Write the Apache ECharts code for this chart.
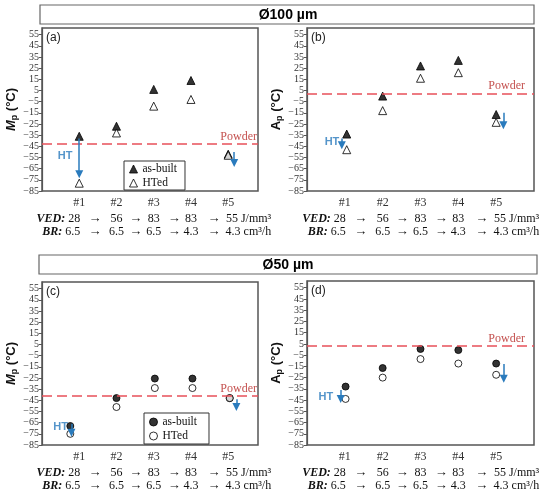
<!DOCTYPE html>
<html lang="en">
<head>
  <meta charset="UTF-8">
  <title>Mp / Ap as-built vs HTed</title>
  <style>
    html, body { margin: 0; padding: 0; background: #fff; }
    #chart { width: 550px; height: 499px; }
  </style>
</head>
<body>
  <div id="chart"></div>
  <script src="https://cdn.jsdelivr.net/npm/echarts@6/dist/echarts.min.js"></script>
  <script>
    // ---- data ----
    const cases = ['#1', '#2', '#3', '#4', '#5'];
    const yTicks = [-85, -75, -65, -55, -45, -35, -25, -15, -5, 5, 15, 25, 35, 45, 55];
    const vedRow = ['28', '56', '83', '83', '55 J/mm³'];
    const brRow = ['6.5', '6.5', '6.5', '4.3', '4.3 cm³/h'];

    // (a) Mp, Ø100 µm
    const xA = [1, 2, 3, 4, 5];
    const mpBuilt100 = [-36, -27, 6, 14, -52];
    const mpHTed100 = [-78, -33, -9, -3, -53];
    const powderA = -42.5;
    const arrowsA = [[1, -38, -70], [5.16, -50, -60]];   // [x, from, to]
    const htA = [0.62, -54];

    // (b) Ap, Ø100 µm
    const xB = [1.05, 2, 3, 4, 5];
    const apBuilt100 = [-34, 0, 27, 32, -16.5];
    const apHTed100 = [-48, -13, 16, 21, -23.5];
    const powderB = 2.5;
    const arrowsB = [[0.92, -38, -44], [5.19, -15, -26]];
    const htB = [0.66, -41];

    // (c) Mp, Ø50 µm
    const xC = [0.76, 2, 3.03, 4.04, 5.04];
    const mpBuilt50 = [-68, -43, -25.5, -25.5, -43];
    const mpHTed50 = [-75, -51, -34, -34, -43];
    const powderC = -41;
    const arrowsC = [[0.79, -66, -74], [5.22, -44, -51]];
    const htC = [0.5, -69];

    // (d) Ap, Ø50 µm
    const xD = [1.02, 2, 3, 4, 5];
    const apBuilt50 = [-33, -16.5, 0.5, -0.5, -12.5];
    const apHTed50 = [-44, -25, -8.5, -12.5, -22.5];
    const powderD = 3.5;
    const arrowsD = [[0.89, -36, -44], [5.2, -13, -26]];
    const htD = [0.5, -42];

    const SERIF = '"Liberation Serif", "Times New Roman", serif';
    const SANS = '"Liberation Sans", Arial, sans-serif';
    const BLUE = '#2a7bbd';

    const panels = [
      { x: xA, built: mpBuilt100, hted: mpHTed100, powder: powderA, arrows: arrowsA, ht: htA,
        sym: 'triangle', size: 8, ylab: 'M', italic: true, xMax: 5.8,
        grid: { left: 42, top: 28, width: 216, height: 163 }, gap: 22 },
      { x: xB, built: apBuilt100, hted: apHTed100, powder: powderB, arrows: arrowsB, ht: htB,
        sym: 'triangle', size: 8, ylab: 'A', italic: false, xMax: 6,
        grid: { left: 307, top: 28, width: 227, height: 163 }, gap: 17 },
      { x: xC, built: mpBuilt50, hted: mpHTed50, powder: powderC, arrows: arrowsC, ht: htC,
        sym: 'circle', size: 7, ylab: 'M', italic: true, xMax: 5.8,
        grid: { left: 42, top: 282, width: 216, height: 163 }, gap: 22 },
      { x: xD, built: apBuilt50, hted: apHTed50, powder: powderD, arrows: arrowsD, ht: htD,
        sym: 'circle', size: 7, ylab: 'A', italic: false, xMax: 6,
        grid: { left: 307, top: 281, width: 227, height: 164 }, gap: 17 }
    ];

    const zip = (xs, ys) => xs.map((v, i) => [v, ys[i]]);

    let grids = [], xAxes = [], yAxes = [], series = [];
    panels.forEach((p, i) => {
      grids.push(Object.assign({ show: true, borderColor: '#555', borderWidth: 1.5 }, p.grid));
      xAxes.push({
        gridIndex: i, type: 'value', min: 0, max: p.xMax,
        axisLine: { show: false }, axisTick: { show: false }, splitLine: { show: false },
        axisLabel: {
          customValues: [1, 2, 3, 4, 5],
          formatter: v => cases[Math.round(v) - 1],
          fontFamily: SERIF, fontSize: 12, color: '#333', margin: 6
        }
      });
      yAxes.push({
        gridIndex: i, type: 'value', min: -85, max: 61,
        axisLine: { show: true, lineStyle: { color: '#555', width: 1.2 } },
        axisTick: { show: true, inside: false, length: 3, customValues: yTicks, lineStyle: { color: '#555' } },
        axisLabel: {
          customValues: yTicks,
          formatter: v => String(v).replace('-', '−'),
          fontFamily: SERIF, fontSize: 10, color: '#333', margin: 3
        },
        splitLine: { show: false },
        name: '{i|' + p.ylab + '}{s|p}{n| (°C)}',
        nameLocation: 'middle', nameRotate: 90, nameGap: p.gap,
        nameTextStyle: {
          rich: {
            i: { fontFamily: SANS, fontWeight: 'bold', fontStyle: p.italic ? 'italic' : 'normal', fontSize: 13, lineHeight: 16, color: '#111' },
            s: { fontFamily: SANS, fontWeight: 'bold', fontSize: 9, verticalAlign: 'bottom', lineHeight: 10, color: '#111' },
            n: { fontFamily: SANS, fontWeight: 'bold', fontSize: 13, lineHeight: 16, color: '#111' }
          }
        }
      });

      // powder reference line
      series.push({
        type: 'scatter', name: 'Powder', xAxisIndex: i, yAxisIndex: i, data: [],
        markLine: {
          silent: true, symbol: 'none', animation: false,
          lineStyle: { color: '#e8505a', type: [10, 5], width: 1.5 },
          label: {
            show: true, position: 'insideEndTop', formatter: 'Powder',
            color: '#c4514f', fontFamily: SERIF, fontSize: 12, distance: 1,
            padding: [0, i % 2 ? 8 : 0, 0, 0]
          },
          data: [{ yAxis: p.powder }]
        }
      });
      // heat-treatment arrows + "HT" text
      series.push({
        type: 'scatter', name: 'HT', xAxisIndex: i, yAxisIndex: i,
        symbolSize: 0, data: [p.ht],
        label: { show: true, position: 'inside', formatter: 'HT', color: BLUE, fontFamily: SANS, fontWeight: 'bold', fontSize: 11 },
        markLine: {
          silent: true, animation: false,
          symbol: ['none', 'triangle'], symbolSize: 8,
          lineStyle: { color: BLUE, width: 1.5, type: 'solid' },
          label: { show: false },
          data: p.arrows.map(a => [{ coord: [a[0], a[1]] }, { coord: [a[0], a[2]] }])
        }
      });
      series.push({
        type: 'scatter', name: 'as-built', xAxisIndex: i, yAxisIndex: i,
        symbol: p.sym, symbolSize: p.size,
        itemStyle: { color: '#000', borderColor: '#000', borderWidth: 1 },
        data: zip(p.x, p.built)
      });
      series.push({
        type: 'scatter', name: 'HTed', xAxisIndex: i, yAxisIndex: i,
        symbol: p.sym, symbolSize: p.size,
        itemStyle: { color: '#fff', borderColor: '#000', borderWidth: 1 },
        data: zip(p.x, p.hted)
      });
    });

    const legendBase = {
      orient: 'vertical', itemWidth: 8, itemHeight: 8, itemGap: 2,
      borderColor: '#333', borderWidth: 1, borderRadius: 0, backgroundColor: '#fff',
      textStyle: { fontFamily: SERIF, fontSize: 11.5, lineHeight: 12, color: '#111' },
      itemStyle: { borderColor: '#000', borderWidth: 1 },
      selectedMode: false
    };

    const option = {
      animation: false,
      backgroundColor: '#fff',
      grid: grids, xAxis: xAxes, yAxis: yAxes, series: series,
      legend: [
        Object.assign({}, legendBase, {
          left: 124, top: 161, padding: [2, 8, 1, 5],
          data: [{ name: 'as-built', icon: 'triangle' }, { name: 'HTed', icon: 'triangle' }]
        }),
        Object.assign({}, legendBase, {
          left: 144, top: 413, padding: [3, 12, 2, 5],
          data: [{ name: 'as-built', icon: 'circle' }, { name: 'HTed', icon: 'circle' }]
        })
      ]
    };

    const dom = document.getElementById('chart');
    const chart = echarts.init(dom);
    chart.setOption(option);

    // ---- header boxes, panel letters, VED / BR rows ----
    const graphic = [];
    [[40, 5, 494, 19, 'Ø100 µm'], [39, 255, 498, 19, 'Ø50 µm']].forEach(b => {
      graphic.push({
        type: 'rect', shape: { x: b[0], y: b[1], width: b[2], height: b[3] },
        style: { fill: '#fff', stroke: '#666', lineWidth: 1.2 }
      });
      graphic.push({
        type: 'text',
        style: { text: b[4], x: 288, y: b[1] + b[3] / 2 + 1, align: 'center', verticalAlign: 'middle',
          fontFamily: SANS, fontWeight: 'bold', fontSize: 14, fill: '#000' }
      });
    });
    ['(a)', '(b)', '(c)', '(d)'].forEach((t, i) => {
      const g = panels[i].grid;
      graphic.push({
        type: 'text',
        style: { text: t, x: g.left + 4, y: g.top + 10, align: 'left', verticalAlign: 'middle',
          fontFamily: SANS, fontSize: 12, fill: '#222' }
      });
    });

    const rowArrowX = [1.42, 2.52, 3.55, 4.62];
    panels.forEach((p, i) => {
      const px = v => chart.convertToPixel({ xAxisIndex: i }, v);
      const bottom = p.grid.top + p.grid.height;
      [[vedRow, 'VED:', 28], [brRow, 'BR:', 41]].forEach(r => {
        const vals = r[0], y = bottom + r[2];
        const base = { fontFamily: SERIF, fontSize: 12, fill: '#111', verticalAlign: 'middle' };
        graphic.push({
          type: 'text',
          style: Object.assign({}, base, {
            text: '{b|' + r[1] + '} ' + vals[0], x: px(1) + 1, y: y, align: 'right',
            rich: { b: { fontFamily: SERIF, fontSize: 12, fontWeight: 'bold', fontStyle: 'italic' } }
          })
        });
        for (let k = 1; k < 4; k++) {
          graphic.push({ type: 'text', style: Object.assign({}, base, { text: vals[k], x: px(k + 1), y: y, align: 'center' }) });
        }
        graphic.push({ type: 'text', style: Object.assign({}, base, { text: vals[4], x: px(5) + 43, y: y, align: 'right' }) });
        rowArrowX.forEach(ax => {
          graphic.push({ type: 'text', style: Object.assign({}, base, { text: '→', x: px(ax), y: y, align: 'center', fontSize: 13 }) });
        });
      });
    });
    chart.setOption({ graphic: graphic });
  </script>
</body>
</html>
